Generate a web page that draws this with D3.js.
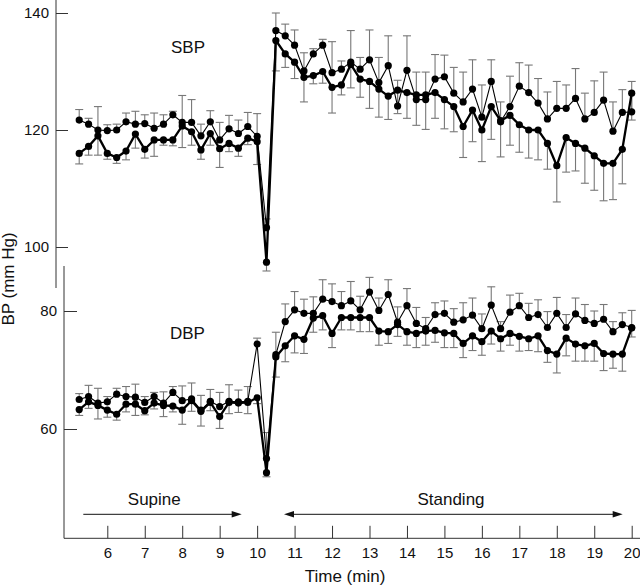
<!DOCTYPE html>
<html><head><meta charset="utf-8">
<script src="https://cdn.jsdelivr.net/npm/d3@7"></script>
<style>
body{margin:0;background:#fff}
svg{display:block}
text{font-family:"Liberation Sans",Arial,Helvetica,sans-serif;fill:#111}
</style>
</head><body>
<svg id="c" width="640" height="585"></svg>
<script>
// ---- data ----
const time = [5.25,5.5,5.75,6,6.25,6.5,6.75,7,7.25,7.5,7.75,8,8.25,8.5,8.75,9,9.25,9.5,9.75,10,
  10.25,10.5,10.75,11,11.25,11.5,11.75,12,12.25,12.5,12.75,13,13.25,13.5,13.75,14,14.25,14.5,14.75,15,
  15.25,15.5,15.75,16,16.25,16.5,16.75,17,17.25,17.5,17.75,18,18.25,18.5,18.75,19,19.25,19.5,19.75,20];

const sbpA = [121.7,121.0,120.0,119.9,120.0,121.4,121.0,121.1,120.3,121.0,122.6,121.3,121.3,119.0,121.4,118.3,120.2,119.4,120.6,118.9,
  103.3,137.0,136.1,134.5,130.1,133.0,134.5,129.8,130.4,131.6,130.4,132.0,128.1,131.0,124.1,130.2,125.2,125.2,128.7,129.1,
  126.3,124.8,127.0,122.2,128.3,121.4,124.0,127.5,126.4,124.6,121.9,123.7,123.7,125.4,121.9,123.0,125.1,119.8,123.0,123.1];
const sbpAErr = [1.8,1.0,4.0,1.0,1.0,1.5,2.2,1.5,2.6,1.6,0.6,4.6,3.9,2.0,1.9,3.0,2.3,2.3,2.4,3.9,
  1.5,3.0,2.0,2.6,3.1,0.9,1.0,5.3,1.4,5.4,2.0,5.1,4.3,5.1,4.4,5.9,4.7,4.7,4.2,3.7,
  4.4,5.1,5.0,5.5,3.7,3.4,5.2,4.0,4.7,4.2,4.6,4.6,4.0,5.1,4.4,5.4,4.8,5.0,3.9,5.2];
const sbpB = [116.0,117.2,119.0,116.0,115.3,116.4,119.3,116.7,118.3,118.3,118.3,120.7,119.7,116.6,119.4,116.8,117.7,116.9,118.6,118.0,
  97.4,135.3,133.0,131.6,129.0,129.3,130.0,127.3,127.7,131.2,128.7,128.3,127.0,125.8,126.8,126.4,126.0,126.0,126.4,125.2,
  124.0,120.6,123.4,120.0,124.0,121.6,122.5,120.9,120.0,120.0,117.7,113.9,118.7,117.7,116.9,115.6,114.3,114.3,116.7,126.3];
const sbpBErr = [1.8,1.5,3.3,1.0,1.0,1.5,2.4,1.5,2.8,0.9,1.0,3.7,2.3,1.6,2.0,3.2,1.4,1.4,1.1,3.9,
  1.5,5.2,2.3,2.8,4.2,1.4,2.0,4.4,1.7,4.0,3.1,4.6,4.8,4.0,4.0,4.4,5.2,5.9,4.4,5.0,
  4.3,5.3,5.4,5.4,5.6,6.2,5.1,4.7,4.8,5.1,4.4,6.2,5.9,4.7,6.0,5.9,6.4,6.2,5.9,4.6];

const dbpA = [65.0,65.5,64.4,64.6,65.9,65.5,65.4,64.5,65.5,64.4,66.2,64.8,65.1,63.2,64.7,63.8,64.7,64.6,64.7,74.4,
  55.0,72.6,78.2,80.2,79.6,79.6,82.0,81.6,80.9,81.7,80.2,83.2,80.1,82.8,78.1,80.9,77.9,77.0,79.4,79.6,
  78.1,78.5,79.3,77.0,81.0,77.0,79.8,80.9,78.9,79.4,77.2,79.6,77.2,79.5,78.4,77.9,78.6,76.5,77.7,77.2];
const dbpAErr = [1.0,1.9,2.5,0.9,1.0,1.7,2.2,1.0,0.7,1.9,1.0,2.5,2.7,2.5,2.0,2.4,2.8,2.0,2.5,1.0,
  4.4,3.8,3.0,3.1,2.4,2.8,3.3,3.0,2.4,3.3,2.3,2.5,2.1,2.5,2.6,2.9,2.7,1.9,2.0,2.1,
  2.3,2.9,2.9,2.5,3.1,1.2,2.9,2.1,2.4,2.5,2.7,2.7,2.2,2.7,2.7,2.1,2.5,1.7,2.0,2.9];
const dbpB = [63.3,64.6,64.0,63.2,62.5,64.2,64.2,63.1,64.4,64.0,63.9,63.2,64.8,63.0,64.5,62.1,64.5,64.4,64.5,65.3,
  52.6,72.2,74.1,75.8,75.2,78.8,79.2,76.2,78.9,78.9,78.9,78.9,76.6,76.5,77.7,76.5,76.2,76.6,76.7,76.3,
  76.2,74.5,75.8,74.8,76.6,75.3,76.2,75.7,75.3,75.8,73.3,72.7,75.4,74.4,74.1,74.5,72.8,72.7,72.7,77.1];
const dbpBErr = [1.0,1.1,2.3,1.2,1.0,1.3,1.9,0.7,1.0,1.9,1.0,2.4,1.8,2.5,1.4,2.0,1.9,1.6,1.9,1.0,
  0.7,3.4,2.7,2.9,2.4,2.4,2.4,2.4,2.1,2.1,2.4,2.4,2.4,2.0,2.0,2.3,2.4,2.4,2.0,2.5,
  2.4,2.4,2.5,2.3,2.2,2.1,2.0,2.5,2.0,2.7,2.0,3.2,3.0,2.9,2.6,3.0,2.9,2.4,2.9,1.5];

const xTicks = [6,7,8,9,10,11,12,13,14,15,16,17,18,19,20];
const sbpTicks = [100,120,140];
const dbpTicks = [60,80];
const panelLabels = ["SBP","DBP"];
const phaseLabels = ["Supine","Standing"];
const phaseSpans = [[5.3,9.6],[10.75,19.7]];
const yTitle = "BP (mm Hg)";
const xTitle = "Time (min)";

// ---- scales ----
const svg = d3.select("#c");
const x = d3.scaleLinear().domain([6,20]).range([107.3,631.7]);
const yS = d3.scaleLinear().domain([100,140]).range([247,13]);
const yD = d3.scaleLinear().domain([60,80]).range([429,311]);

const AX = "#333";

// y axes
const gS = svg.append("g").attr("transform","translate(56,0)")
  .call(d3.axisLeft(yS).tickValues(sbpTicks).tickSizeInner(-12).tickSizeOuter(0).tickPadding(7));
const gD = svg.append("g").attr("transform","translate(64,0)")
  .call(d3.axisLeft(yD).tickValues(dbpTicks).tickSizeInner(-13).tickSizeOuter(0).tickPadding(7));
const gX = svg.append("g").attr("transform","translate(0,538.3)")
  .call(d3.axisBottom(x).tickValues(xTicks).tickSizeInner(-12.5).tickSizeOuter(0).tickPadding(9));
[gS,gD,gX].forEach(g=>{
  g.select(".domain").remove();
  g.selectAll(".tick line").attr("stroke",AX).attr("stroke-width",1);
  g.selectAll(".tick text").attr("font-size",15).attr("font-family","Liberation Sans, Arial, sans-serif").attr("fill","#111");
});
// axis lines
svg.append("line").attr("x1",56).attr("x2",56).attr("y1",0).attr("y2",288).attr("stroke",AX);
svg.append("line").attr("x1",64).attr("x2",64).attr("y1",266).attr("y2",538.3).attr("stroke",AX);
svg.append("line").attr("x1",64).attr("x2",640).attr("y1",538.3).attr("y2",538.3).attr("stroke",AX);

// titles
svg.append("text").attr("transform","translate(14,279) rotate(-90)")
  .attr("text-anchor","middle").attr("font-size",17).text(yTitle);
svg.append("text").attr("x",345).attr("y",581.5).attr("text-anchor","middle").attr("font-size",17).text(xTitle);
svg.append("text").attr("x",171).attr("y",52.7).attr("font-size",17).text(panelLabels[0]);
svg.append("text").attr("x",170).attr("y",339).attr("font-size",17).text(panelLabels[1]);

// phase arrows
const arrowY = 514.3;
function head(tipX, dir){
  svg.append("path").attr("d", `M${tipX},${arrowY} L${tipX-dir*10},${arrowY-3.2} L${tipX-dir*10},${arrowY+3.2} Z`).attr("fill","#111");
}
svg.append("line").attr("x1",83.3).attr("x2",236).attr("y1",arrowY).attr("y2",arrowY).attr("stroke","#111");
head(241.7,1);
svg.append("line").attr("x1",290).attr("x2",617).attr("y1",arrowY).attr("y2",arrowY).attr("stroke","#111");
head(284,-1); head(622.7,1);
svg.append("text").attr("x",154.3).attr("y",505).attr("text-anchor","middle").attr("font-size",17).text(phaseLabels[0]);
svg.append("text").attr("x",451).attr("y",505).attr("text-anchor","middle").attr("font-size",17).text(phaseLabels[1]);

// series drawing
function series(vals, errs, y, dir, lw){
  const pts = time.map((t,i)=>({t, v:vals[i], e:errs[i]}));
  const g = svg.append("g");
  const bars = g.append("g").attr("stroke","#777").attr("stroke-width",1.1);
  pts.forEach(p=>{
    const y0 = y(p.v), y1 = y(p.v + dir*p.e), cx = x(p.t);
    bars.append("line").attr("x1",cx).attr("x2",cx).attr("y1",y0).attr("y2",y1);
    bars.append("line").attr("x1",cx-4).attr("x2",cx+4).attr("y1",y1).attr("y2",y1);
  });
  return {g, pts, y, lw};
}
const all = [
  series(sbpA, sbpAErr, yS, 1, 1.1),
  series(sbpB, sbpBErr, yS, -1, 2.3),
  series(dbpA, dbpAErr, yD, 1, 1.1),
  series(dbpB, dbpBErr, yD, -1, 2.3)
];
all.forEach(s=>{
  const line = d3.line().x(d=>x(d.t)).y(d=>s.y(d.v));
  svg.append("path").datum(s.pts).attr("d",line).attr("fill","none")
    .attr("stroke","#000").attr("stroke-width",s.lw).attr("stroke-linejoin","round");
});
all.forEach(s=>{
  svg.append("g").selectAll("circle").data(s.pts).join("circle")
    .attr("cx",d=>x(d.t)).attr("cy",d=>s.y(d.v)).attr("r",3.6).attr("fill","#000");
});
</script>
</body></html>
